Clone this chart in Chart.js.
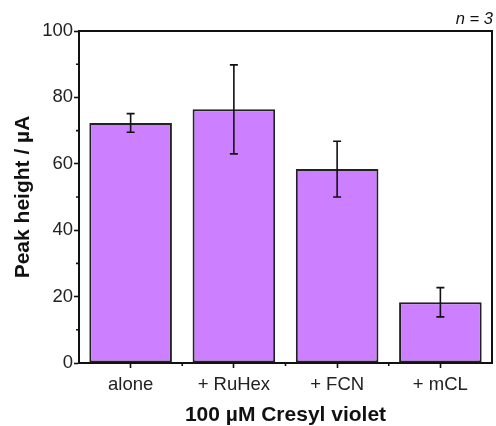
<!DOCTYPE html>
<html>
<head>
<meta charset="utf-8">
<script src="https://cdn.jsdelivr.net/npm/chart.js@4"></script>
<style>
  html, body { margin: 0; padding: 0; background: #fff; }
  #wrap { width: 496px; height: 426px; }
</style>
</head>
<body>
<div id="wrap"><canvas id="graph" width="496" height="426"></canvas></div>
<script>
// données
var categories = ['alone', '+ RuHex', '+ FCN', '+ mCL'];
var hauteurs = [72.3, 76.4, 58.4, 18.3];   // µA
var erreurs = [2.8, 13.4, 8.4, 4.4];        // écart-type, n = 3
var ticksY = [0, 20, 40, 60, 80, 100];

var police = '"Liberation Sans", Arial, sans-serif';

// barres d'erreur + graduations secondaires + cadre
var decor = {
  id: 'decor',
  afterDatasetsDraw: function(chart) {
    var ctx = chart.ctx;
    var x = chart.scales.x, y = chart.scales.y;
    var ca = chart.chartArea;
    ctx.save();
    ctx.strokeStyle = '#111';
    ctx.lineWidth = 1.6;
    // barres d'erreur
    var meta = chart.getDatasetMeta(0);
    for (var i = 0; i < hauteurs.length; i++) {
      var px = meta.data[i].x;
      var haut = y.getPixelForValue(hauteurs[i] + erreurs[i]);
      var bas = y.getPixelForValue(hauteurs[i] - erreurs[i]);
      ctx.beginPath();
      ctx.moveTo(px, haut); ctx.lineTo(px, bas);
      ctx.moveTo(px - 4, haut); ctx.lineTo(px + 4, haut);
      ctx.moveTo(px - 4, bas); ctx.lineTo(px + 4, bas);
      ctx.stroke();
    }
    // cadre haut et droite
    ctx.lineWidth = 2;
    ctx.beginPath();
    ctx.moveTo(ca.left, ca.top); ctx.lineTo(ca.right, ca.top); ctx.lineTo(ca.right, ca.bottom);
    ctx.stroke();
    // graduations secondaires y
    ctx.lineWidth = 1.6;
    ctx.beginPath();
    for (var v = 10; v < 100; v += 20) {
      var py = y.getPixelForValue(v);
      ctx.moveTo(ca.left, py); ctx.lineTo(ca.left - 3, py);
    }
    // graduations secondaires x (entre catégories)
    for (var j = 0; j < categories.length - 1; j++) {
      var bx = (x.getPixelForValue(j) + x.getPixelForValue(j + 1)) / 2;
      ctx.moveTo(bx, ca.bottom); ctx.lineTo(bx, ca.bottom + 3);
    }
    ctx.stroke();
    // n = 3
    ctx.fillStyle = '#111';
    ctx.font = 'italic 16.5px ' + police;
    ctx.textAlign = 'right';
    ctx.textBaseline = 'bottom';
    ctx.fillText('n = 3', ca.right + 1, ca.top - 3);
    ctx.restore();
  }
};

var data = {
  labels: categories,
  datasets: [{
    data: hauteurs,
    backgroundColor: '#cc80ff',
    borderColor: '#222',
    borderWidth: 2,
    borderSkipped: false,
    barPercentage: 0.8,
    categoryPercentage: 1.0
  }]
};

var config = {
  type: 'bar',
  data: data,
  options: {
    responsive: false,
    animation: false,
    layout: { padding: { top: 31, right: 4, left: 0, bottom: 0 } },
    plugins: { legend: { display: false }, tooltip: { enabled: false } },
    scales: {
      x: {
        offset: true,
        grid: { offset: false, drawOnChartArea: false, tickLength: 5, tickColor: '#111', tickWidth: 1.6 },
        border: { color: '#111', width: 2 },
        ticks: { color: '#222', font: { family: police, size: 18.5 }, padding: 6 },
        title: { display: true, text: '100 µM Cresyl violet', color: '#111', font: { family: police, size: 21, weight: 'bold', lineHeight: 1 }, padding: { top: 0, bottom: 0 } },
        afterFit: function(s) { s.height = 63; }
      },
      y: {
        min: 0, max: 100,
        afterBuildTicks: function(s) { s.ticks = ticksY.map(function(v) { return { value: v }; }); },
        grid: { drawOnChartArea: false, tickLength: 5, tickColor: '#111', tickWidth: 1.6 },
        border: { color: '#111', width: 2 },
        ticks: { color: '#222', font: { family: police, size: 18.5 }, padding: 1 },
        title: { display: true, text: 'Peak height / µA', color: '#111', font: { family: police, size: 21, weight: 'bold' }, padding: { top: 11, bottom: 0 } },
        afterFit: function(s) { s.width = 79; }
      }
    }
  },
  plugins: [decor]
};

var graph = new Chart(document.getElementById('graph'), config);
</script>
</body>
</html>
